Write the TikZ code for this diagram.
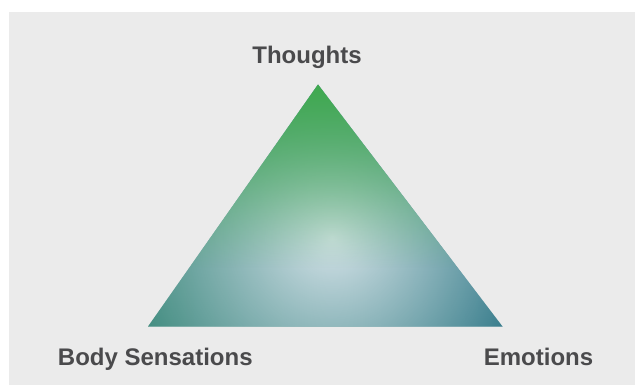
\documentclass[tikz,border=0pt]{standalone}
\usepackage{fontspec}
\setmainfont{Liberation Sans}
\usetikzlibrary{fadings}
\definecolor{paper}{HTML}{EBEBEB}
\definecolor{leafgreen}{HTML}{3DAB48}
\definecolor{seagreen}{HTML}{35896F}
\definecolor{deepteal}{HTML}{11607C}
\definecolor{mist}{HTML}{D4E2E8}
\definecolor{ink}{HTML}{4A4A4C}
\tikzfading[name=fadedown, top color=transparent!0, bottom color=transparent!100]
\tikzfading[name=glowfade, inner color=transparent!0, outer color=transparent!100]

\begin{document}
\begin{tikzpicture}[x=1pt, y=-1pt,
  cornerlabel/.style={anchor=base, text=ink, inner sep=0pt, font=\fontsize{24}{28}\selectfont\bfseries}]
\useasboundingbox (0,0) rectangle (635,385);
\fill[paper] (9,12) rectangle (635,385);
% corners of the triangle
\coordinate (apex) at (318,84.5);
\coordinate (baseleft) at (148,326.5);
\coordinate (baseright) at (502.5,326.5);
\begin{scope}
\clip (apex) -- (baseleft) -- (baseright) -- cycle;
\shade[left color=seagreen, right color=deepteal] (40,80) rectangle (610,330);
\fill[mist, path fading=glowfade] (332,238) circle (235);
\fill[leafgreen, path fading=fadedown] (140,68) rectangle (510,268);
\end{scope}
% labels
\node[cornerlabel] (thoughts) at (307,63.3) {Thoughts};
\node[cornerlabel] (body) at (155.3,365) {Body Sensations};
\node[cornerlabel] (emotions) at (538.5,365) {Emotions};
\end{tikzpicture}
\end{document}
